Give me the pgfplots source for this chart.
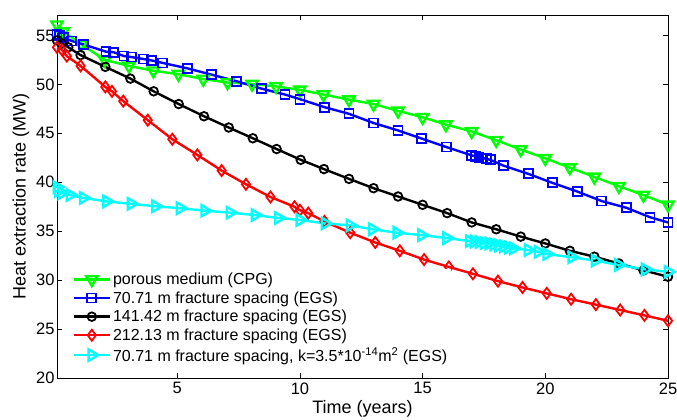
\documentclass[border=0pt]{standalone}
\usepackage{pgfplots}
\pgfplotsset{compat=1.18}
\usepackage{fontspec}
\setmainfont{Liberation Sans}
\begin{document}
\begin{tikzpicture}
\path[use as bounding box] (0pt,0pt) rectangle (677pt,420pt);
\begin{axis}[
  at={(57pt,42pt)}, anchor=south west,
  scale only axis, width=611pt, height=363pt,
  xmin=0.1, xmax=25, ymin=20, ymax=57.1,
  xtick={5,10,15,20,25}, ytick={20,25,30,35,40,45,50,55},
  tick align=inside, major tick length=5pt,
  tick style={black, line width=0.6pt},
  axis line style={black, line width=0.8pt},
  /pgf/number format/assume math mode=true,
  ticklabel style={font=\fontsize{16.5}{19}\selectfont},
  xticklabel style={yshift=-1pt},
  yticklabel style={xshift=1pt},
  label style={font=\fontsize{18}{21}\selectfont},
  xlabel={Time (years)}, ylabel={Heat extraction rate (MW)},
  xlabel style={yshift=1pt},
  ylabel style={yshift=0pt},
  every axis plot/.append style={line width=2.4pt, mark options={solid, line width=1.8pt}},
  legend style={at={(0.022,0.03)}, anchor=south west, draw=none, fill=white, fill opacity=1,
    font=\fontsize{16}{19}\selectfont, row sep=1.5pt, inner sep=2pt},
  legend cell align=left,
  legend image code/.code={\draw[mark repeat=2,mark phase=2,#1] plot coordinates {(0pt,0pt) (18pt,0pt) (36pt,0pt)};},
]
\addplot[color={rgb,1:red,0;green,1;blue,0}, mark=triangle, mark size=6.5pt, mark options={rotate=180}] coordinates {
(0.1,56.1) (0.35,55.4) (1.1,54.1) (2.05,52.5) (3.03,51.9) (4.03,51.4) (5.05,51.05) (6.06,50.55) (7.05,50.2) (8.05,50.05) (9.03,49.8) (10.0,49.45) (10.96,48.97) (12.0,48.45) (13.0,48.0) (14.0,47.3) (15.0,46.65) (15.95,45.9) (17.0,45.2) (18.0,44.3) (19.0,43.35) (20.0,42.45) (21.0,41.5) (22.0,40.55) (23.0,39.6) (24.0,38.7) (25.0,37.7)
};
\addlegendentry{porous medium (CPG)}
\addplot[color={rgb,1:red,0;green,0;blue,1}, mark=square, mark size=4.5pt] coordinates {
(0.1,55.1) (0.2,55.0) (0.35,54.8) (0.7,54.45) (1.17,54.1) (2.1,53.35) (2.4,53.3) (2.83,52.9) (3.14,52.8) (3.62,52.6) (3.96,52.45) (4.41,52.2) (5.41,51.65) (6.4,51.0) (7.42,50.33) (8.44,49.57) (9.39,48.97) (10.0,48.5) (11.0,47.68) (12.0,47.0) (13.0,46.06) (14.0,45.3) (14.97,44.46) (15.96,43.61) (17.0,42.75) (17.15,42.65) (17.3,42.55) (17.45,42.48) (17.6,42.4) (17.75,42.3) (18.3,41.7) (19.3,40.87) (20.28,39.95) (21.3,39.06) (22.3,38.08) (23.3,37.4) (24.27,36.43) (25.0,35.9)
};
\addlegendentry{70.71 m fracture spacing (EGS)}
\addplot[color=black, mark=o, mark size=4.3pt] coordinates {
(0.1,54.5) (0.3,54.2) (0.56,53.8) (1.06,53.0) (2.07,51.8) (3.09,50.6) (4.04,49.3) (5.06,48.0) (6.09,46.75) (7.1,45.6) (8.08,44.5) (9.05,43.4) (10.03,42.3) (10.98,41.35) (12.0,40.35) (13.0,39.4) (14.0,38.55) (15.0,37.7) (16.0,36.85) (17.0,35.9) (18.0,35.2) (19.0,34.45) (20.0,33.75) (21.0,33.0) (22.0,32.4) (23.0,31.7) (24.0,31.0) (25.0,30.35)
};
\addlegendentry{141.42 m fracture spacing (EGS)}
\addplot[color={rgb,1:red,1;green,0;blue,0}, mark=diamond, mark size=5.5pt] coordinates {
(0.1,53.8) (0.3,53.55) (0.5,52.9) (1.06,51.9) (2.07,49.75) (2.34,49.3) (2.8,48.3) (3.8,46.35) (4.8,44.4) (5.82,42.8) (6.81,41.2) (7.8,39.8) (8.8,38.5) (9.78,37.5) (10.0,37.15) (10.34,36.85) (11.0,36.0) (12.05,34.85) (13.07,33.85) (14.07,33.0) (15.06,32.1) (16.07,31.35) (17.05,30.65) (18.07,29.9) (19.07,29.25) (20.06,28.65) (21.05,28.05) (22.06,27.5) (23.05,26.95) (24.04,26.4) (25.0,25.85)
};
\addlegendentry{212.13 m fracture spacing (EGS)}
\addplot[color={rgb,1:red,0;green,1;blue,1}, mark=triangle, mark size=6.5pt, mark options={rotate=-90}] coordinates {
(0.1,39.5) (0.15,39.1) (0.3,38.9) (0.63,38.7) (1.17,38.4) (2.12,38.05) (3.12,37.8) (4.12,37.55) (5.12,37.35) (6.12,37.1) (7.15,36.9) (8.17,36.65) (9.12,36.35) (10.0,36.15) (11.02,35.8) (12.04,35.6) (12.95,35.2) (13.95,34.85) (14.96,34.6) (15.98,34.3) (16.9,34.0) (17.1,33.95) (17.3,33.9) (17.5,33.8) (17.7,33.75) (17.9,33.65) (18.1,33.55) (18.3,33.45) (18.5,33.35) (18.7,33.25) (19.3,33.08) (19.7,32.9) (20.06,32.67) (21.08,32.34) (22.03,32.0) (22.98,31.55) (24.07,31.1) (25.0,30.85)
};
\addlegendentry{70.71 m fracture spacing, k=3.5*10\textsuperscript{-14}m\textsuperscript{2} (EGS)}
\end{axis}
\end{tikzpicture}
\end{document}
